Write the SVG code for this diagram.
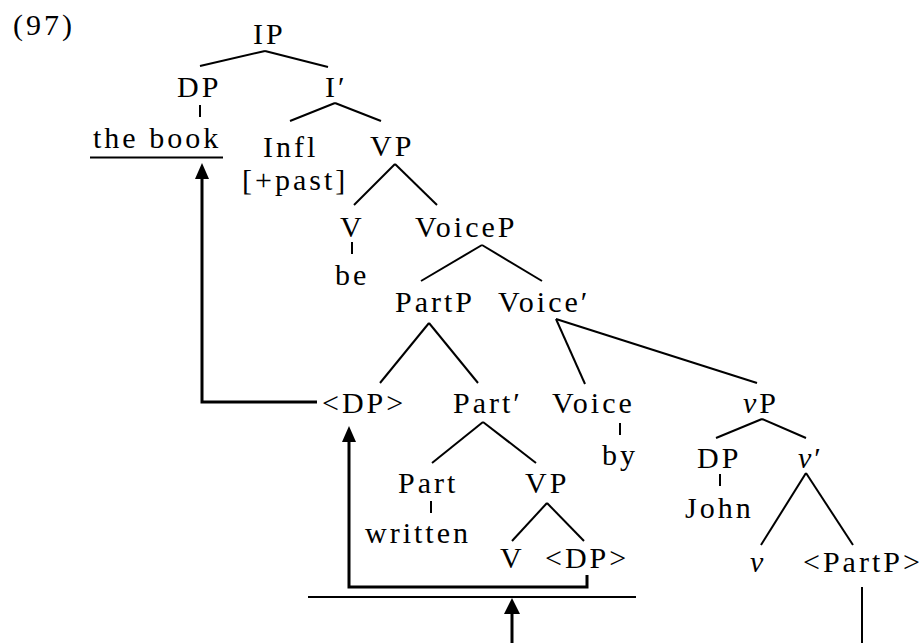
<svg xmlns="http://www.w3.org/2000/svg" width="922" height="643" viewBox="0 0 922 643">
<defs>
<style>
.t text{letter-spacing:3px;fill:#000}
.i{font-style:italic}
.e line{stroke:#000;stroke-width:2;stroke-linecap:butt}
.mv{fill:none;stroke:#000;stroke-width:3}
.ah{fill:#000}
</style>
</defs>
<rect width="922" height="643" fill="#fff"/>
<g class="t" font-family="Liberation Serif, Times New Roman, serif" font-size="30">
<text x="13" y="35">(97)</text>
<g id="IP"><text x="253" y="44">IP</text></g>
<g id="DP1"><text x="177" y="97">DP</text></g>
<g id="Ibar"><text x="325" y="97">I′</text></g>
<g id="thebook"><text x="93" y="148">the book</text><line x1="90" y1="157.5" x2="223" y2="157.5" stroke="#000" stroke-width="2"/></g>
<g id="Infl"><text x="263" y="157">Infl</text><text x="242" y="190">[+past]</text></g>
<g id="VP1"><text x="370" y="156">VP</text></g>
<g id="V1"><text x="340" y="237">V</text></g>
<g id="VoiceP"><text x="415" y="237">VoiceP</text></g>
<g id="be"><text x="335" y="285">be</text></g>
<g id="PartP"><text x="395" y="312">PartP</text></g>
<g id="Voicebar"><text x="498" y="312">Voice′</text></g>
<g id="DPtrace1"><text x="322" y="413">&lt;DP&gt;</text></g>
<g id="Partbar"><text x="453" y="413">Part′</text></g>
<g id="Voice"><text x="552" y="413">Voice</text></g>
<g id="vP"><text x="743" y="413"><tspan class="i">v</tspan>P</text></g>
<g id="by"><text x="602" y="465">by</text></g>
<g id="DP2"><text x="697" y="468">DP</text></g>
<g id="vbar"><text x="798" y="468"><tspan class="i">v</tspan>′</text></g>
<g id="Part"><text x="398" y="493">Part</text></g>
<g id="VP2"><text x="525" y="493">VP</text></g>
<g id="John"><text x="685" y="518">John</text></g>
<g id="written"><text x="365" y="543">written</text></g>
<g id="V2"><text x="500" y="568">V</text></g>
<g id="DPtrace2"><text x="545" y="568">&lt;DP&gt;</text></g>
<g id="v"><text x="750" y="572" class="i">v</text></g>
<g id="PartPtrace"><text x="803" y="572">&lt;PartP&gt;</text></g>
</g>
<g id="edges" class="e">
<line x1="265" y1="51" x2="200" y2="66"/>
<line x1="265" y1="51" x2="328" y2="67"/>
<line x1="200" y1="105" x2="200" y2="117"/>
<line x1="335" y1="103" x2="290" y2="121"/>
<line x1="335" y1="103" x2="381" y2="121"/>
<line x1="395" y1="164" x2="354" y2="205"/>
<line x1="395" y1="164" x2="437" y2="205"/>
<line x1="352" y1="242" x2="352" y2="254"/>
<line x1="482" y1="245" x2="421" y2="281"/>
<line x1="482" y1="245" x2="542" y2="281"/>
<line x1="429" y1="323" x2="380" y2="383"/>
<line x1="429" y1="323" x2="478" y2="383"/>
<line x1="556" y1="319" x2="585" y2="384"/>
<line x1="556" y1="319" x2="757" y2="383"/>
<line x1="483" y1="422" x2="432" y2="463"/>
<line x1="483" y1="422" x2="536" y2="463"/>
<line x1="620" y1="423" x2="620" y2="435"/>
<line x1="431" y1="501" x2="431" y2="513"/>
<line x1="547" y1="503" x2="512" y2="541"/>
<line x1="547" y1="503" x2="584" y2="541"/>
<line x1="762" y1="419" x2="716" y2="438"/>
<line x1="762" y1="419" x2="806" y2="438"/>
<line x1="720" y1="474" x2="720" y2="486"/>
<line x1="806" y1="473" x2="761" y2="545"/>
<line x1="806" y1="473" x2="853" y2="545"/>
</g>
<g id="movement">
<polyline class="mv" points="317,402 202,402 202,178"/>
<polygon class="ah" points="202,163 195,179 209,179"/>
<polyline class="mv" points="587,575 587,587 349,587 349,440"/>
<polygon class="ah" points="349,426 342,442 356,442"/>
<line x1="308" y1="597" x2="636" y2="597" stroke="#000" stroke-width="2"/>
<line x1="512" y1="643" x2="512" y2="612" stroke="#000" stroke-width="3"/>
<polygon class="ah" points="512,598 504,614 520,614"/>
<line x1="862" y1="587" x2="862" y2="643" stroke="#000" stroke-width="2"/>
</g>
</svg>
